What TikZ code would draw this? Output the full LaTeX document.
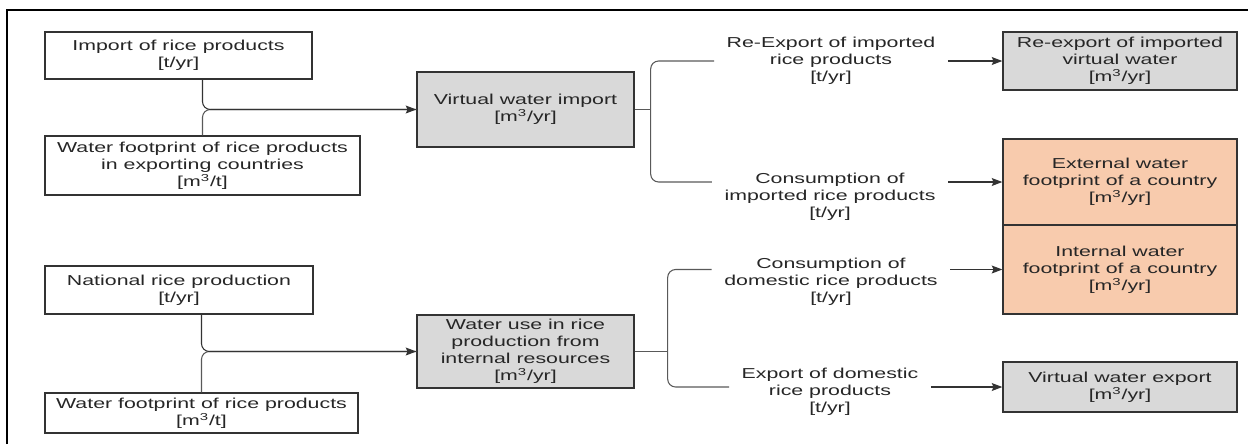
\documentclass[tikz,border=0pt]{standalone}
\usepackage{fontspec}
\setmainfont[FakeStretch=1.48]{Liberation Sans}
\usetikzlibrary{arrows.meta,positioning}

\definecolor{boxgrey}{HTML}{D9D9D9}
\definecolor{boxpeach}{HTML}{F8CBAD}

\begin{document}
\begin{tikzpicture}[
        x=0.02cm, y=-0.02cm,
        font=\fontsize{8.2}{9.6}\selectfont,
        box/.style = {rectangle, draw=black!80, line width=0.8pt, inner sep=0pt, align=center, text=black!85},
        grey box/.style = {box, fill=boxgrey},
        peach box/.style = {box, fill=boxpeach},
        quantity/.style = {align=center, inner xsep=7pt, inner ysep=0pt, text=black!85},
        link/.style = {draw=black!65, line width=0.6pt},
        arrow/.style = {link, -{Stealth[length=6pt, width=4.5pt, inset=1pt]}, draw=black!80}
    ]

    \useasboundingbox (0,0) rectangle (1248,444);
    \draw[line width=1.1pt] (7,444) |- (1248,10);

    %nodes
    \node [box, minimum width=5.34cm, minimum height=0.94cm] (imp) at (178.5,55.5) {Import of rice products\\{[t/yr]}};
    \node [box, minimum width=6.30cm, minimum height=1.18cm] (wfexp) at (202.5,165.5) {Water footprint of rice products\\in exporting countries\\{[m\textsuperscript{3}/t]}};
    \node [box, minimum width=5.36cm, minimum height=0.96cm] (nat) at (179,290) {National rice production\\{[t/yr]}};
    \node [box, minimum width=6.26cm, minimum height=0.80cm] (wfdom) at (201.5,413) {Water footprint of rice products\\{[m\textsuperscript{3}/t]}};

    \node [grey box, minimum width=4.34cm, minimum height=1.50cm] (vwi) at (525.5,109.5) {Virtual water import\\{[m\textsuperscript{3}/yr]}};
    \node [grey box, minimum width=4.34cm, minimum height=1.46cm] (wuse) at (525.5,351.5) {Water use in rice\\production from\\internal resources\\{[m\textsuperscript{3}/yr]}};

    \node [quantity] (reexp) at (831,61) {Re-Export of imported\\rice products\\{[t/yr]}};
    \node [quantity] (consimp) at (830,197) {Consumption of\\imported rice products\\{[t/yr]}};
    \node [quantity] (consdom) at (831,282) {Consumption of\\domestic rice products\\{[t/yr]}};
    \node [quantity] (expdom) at (830,392) {Export of domestic\\rice products\\{[t/yr]}};

    \node [grey box, minimum width=4.68cm, minimum height=1.16cm] (rvw) at (1120,61) {Re-export of imported\\virtual water\\{[m\textsuperscript{3}/yr]}};
    \node [peach box, minimum width=4.68cm, minimum height=1.72cm] (ext) at (1120,182) {External water\\footprint of a country\\{[m\textsuperscript{3}/yr]}};
    \node [peach box, minimum width=4.68cm, minimum height=1.78cm] (int) at (1120,269.5) {Internal water\\footprint of a country\\{[m\textsuperscript{3}/yr]}};
    \node [grey box, minimum width=4.68cm, minimum height=1.00cm] (vwe) at (1120,387) {Virtual water export\\{[m\textsuperscript{3}/yr]}};

    % joins
    \draw[link, rounded corners=4.5pt] (wfexp.north) |- (vwi.west);
    \draw[arrow, rounded corners=4.5pt] (wfexp.north |- imp.south) |- (vwi.west);
    \draw[link, rounded corners=4.5pt] (wfdom.north) |- (wuse.west);
    \draw[arrow, rounded corners=4.5pt] (wfdom.north |- nat.south) |- (wuse.west);

    % forks
    \draw[link] (vwi.east) -- ++(16,0) coordinate (fork1);
    \draw[link] (wuse.east) -- ++(33,0) coordinate (fork2);
    \draw[link, rounded corners=4.5pt] (fork1) |- (reexp.west);
    \draw[link, rounded corners=4.5pt] (fork1) |- (consimp.west |- ext.west);
    \draw[link, rounded corners=4.5pt] (fork2) |- (consdom.west |- int.west);
    \draw[link, rounded corners=4.5pt] (fork2) |- (expdom.west |- vwe.west);

    \draw[arrow] (reexp.east) -- (rvw.west);
    \draw[arrow] (consimp.east |- ext.west) -- (ext.west);
    \draw[arrow] (consdom.east |- int.west) -- (int.west);
    \draw[arrow] (expdom.east |- vwe.west) -- (vwe.west);

\end{tikzpicture}
\end{document}
